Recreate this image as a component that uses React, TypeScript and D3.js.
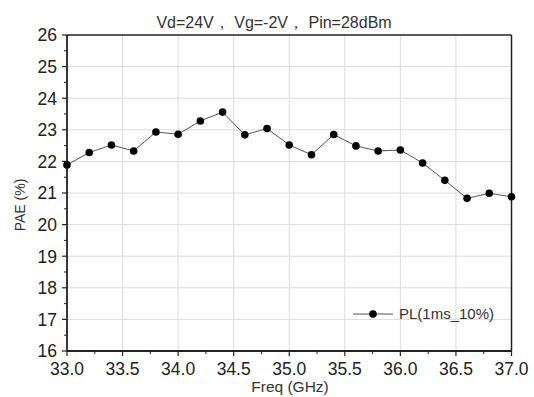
import React from "react";
import * as d3 from "d3";

const freqs = [33.0, 33.2, 33.4, 33.6, 33.8, 34.0, 34.2, 34.4, 34.6, 34.8, 35.0, 35.2, 35.4, 35.6, 35.8, 36.0, 36.2, 36.4, 36.6, 36.8, 37.0];
const pae = [21.89, 22.28, 22.52, 22.33, 22.93, 22.86, 23.28, 23.56, 22.84, 23.04, 22.52, 22.21, 22.85, 22.49, 22.33, 22.36, 21.95, 21.4, 20.83, 20.99, 20.88];
const xTicks = [33.0, 33.5, 34.0, 34.5, 35.0, 35.5, 36.0, 36.5, 37.0];
const xMinor = [33.25, 33.75, 34.25, 34.75, 35.25, 35.75, 36.25, 36.75];
const yTicks = [16, 17, 18, 19, 20, 21, 22, 23, 24, 25, 26];
const yMinor = [16.5, 17.5, 18.5, 19.5, 20.5, 21.5, 22.5, 23.5, 24.5, 25.5];
const title = "Vd=24V， Vg=-2V， Pin=28dBm";
const xLabel = "Freq (GHz)";
const yLabel = "PAE (%)";
const seriesName = "PL(1ms_10%)";

export default function App() {
  const W = 534, H = 397;
  const left = 67, right = 511.5, top = 35, bottom = 351;
  const x = d3.scaleLinear().domain([33, 37]).range([left, right]);
  const y = d3.scaleLinear().domain([16, 26]).range([bottom, top]);
  const line = d3.line<number>().x((_, i) => x(freqs[i])).y((d) => y(d));
  const font = "'Liberation Sans', Arial, sans-serif";
  const grid = "#dcdcdc";
  return (
    <svg width={W} height={H} style={{ position: "absolute", left: 0, top: 0, background: "#fff" }} fontFamily={font}>
      <rect x={0} y={0} width={W} height={H} fill="#fff" />
      {xTicks.slice(1, -1).map((t) => (
        <line key={"gx" + t} x1={x(t)} x2={x(t)} y1={top} y2={bottom} stroke={grid} strokeWidth={1} />
      ))}
      {yTicks.slice(1, -1).map((t) => (
        <line key={"gy" + t} x1={left} x2={right} y1={y(t)} y2={y(t)} stroke={grid} strokeWidth={1} />
      ))}
      {/* frame */}
      <line x1={left} x2={right} y1={top} y2={top} stroke="#222" strokeWidth={1.5} />
      <line x1={right} x2={right} y1={top} y2={bottom} stroke="#222" strokeWidth={1.5} />
      <line x1={left} x2={right} y1={bottom} y2={bottom} stroke="#222" strokeWidth={1.8} />
      <line x1={left} x2={left} y1={top} y2={bottom} stroke="#222" strokeWidth={1.8} />
      {/* y ticks */}
      {yTicks.map((t) => (
        <g key={"yt" + t}>
          <line x1={left - 5} x2={left} y1={y(t)} y2={y(t)} stroke="#222" strokeWidth={1.2} />
          <text x={left - 10} y={y(t)} dy="0.36em" textAnchor="end" fontSize={17.5} fill="#222">{t}</text>
        </g>
      ))}
      {yMinor.map((t) => (
        <line key={"ym" + t} x1={left - 3} x2={left} y1={y(t)} y2={y(t)} stroke="#222" strokeWidth={1} />
      ))}
      {/* x ticks */}
      {xTicks.map((t) => (
        <g key={"xt" + t}>
          <line x1={x(t)} x2={x(t)} y1={bottom} y2={bottom + 5} stroke="#222" strokeWidth={1.2} />
          <text x={x(t)} y={bottom + 24} textAnchor="middle" fontSize={17.5} fill="#222">{t.toFixed(1)}</text>
        </g>
      ))}
      {xMinor.map((t) => (
        <line key={"xm" + t} x1={x(t)} x2={x(t)} y1={bottom} y2={bottom + 3} stroke="#222" strokeWidth={1} />
      ))}
      {/* labels */}
      <text x={290} y={392} textAnchor="middle" fontSize={15.5} fill="#333">{xLabel}</text>
      <text transform={`translate(25,205) rotate(-90)`} textAnchor="middle" fontSize={14} fill="#333">{yLabel}</text>
      <text x={274} y={28} textAnchor="middle" fontSize={16} fill="#333">{title}</text>
      {/* series */}
      <path d={line(pae) ?? ""} fill="none" stroke="#555" strokeWidth={1} />
      {pae.map((v, i) => (
        <circle key={"p" + i} cx={x(freqs[i])} cy={y(v)} r={3.8} fill="#000" />
      ))}
      {/* legend */}
      <line x1={353} x2={393} y1={314} y2={314} stroke="#555" strokeWidth={1} />
      <circle cx={373} cy={314} r={3.8} fill="#000" />
      <text x={399} y={314} dy="0.36em" fontSize={15} fill="#333">{seriesName}</text>
    </svg>
  );
}
